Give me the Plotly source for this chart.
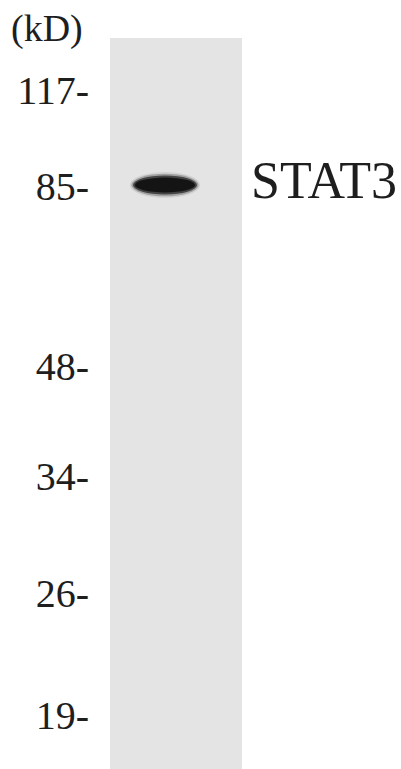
import plotly.graph_objects as go

# Molecular-weight marker ladder (kD) and their migration positions (image units, top = 0)
marker_labels = ["117-", "85-", "48-", "34-", "26-", "19-"]
marker_kd = [117, 85, 48, 34, 26, 19]
marker_pos = [94, 190, 370, 480, 597, 719]

# Lane geometry (image units)
lane_center = [176]
lane_width = [132]
lane_top = [38]
lane_length = [731]

# Detected band
band_names = ["STAT3"]
band_pos = [185]          # migration position of band centre
band_center_x = [165]     # horizontal centre within the lane
band_len = [64]           # band length
band_thick = [18]         # band thickness

SERIF = "Liberation Serif, Times New Roman, serif"

fig = go.Figure()

# Lane
fig.add_trace(go.Bar(
    x=lane_center, y=lane_length, base=lane_top, width=lane_width,
    marker=dict(color="#e4e4e4", line=dict(width=0)),
    hoverinfo="skip", showlegend=False,
))

# Marker labels
fig.add_trace(go.Scatter(
    x=[89] * len(marker_labels), y=marker_pos, mode="text",
    text=marker_labels, textposition="middle left",
    textfont=dict(family=SERIF, size=40, color="#1e1e1e"),
    hoverinfo="skip", showlegend=False,
))

# Unit label
fig.add_trace(go.Scatter(
    x=[11], y=[31], mode="text", text=["(kD)"], textposition="middle right",
    textfont=dict(family=SERIF, size=38, color="#1e1e1e"),
    hoverinfo="skip", showlegend=False,
))

# Band name label
fig.add_trace(go.Scatter(
    x=[251], y=band_pos, mode="text", text=band_names, textposition="middle right",
    textfont=dict(family=SERIF, size=52, color="#1e1e1e"),
    hoverinfo="skip", showlegend=False,
))

# Band drawn as soft layered ellipses
shapes = []
for cx, cy, L, T in zip(band_center_x, band_pos, band_len, band_thick):
    layers = [(1.10, 1.45, "#c8c8c8", 0.6), (1.05, 1.25, "#8a8a8a", 0.7),
              (1.00, 1.05, "#3a3a3a", 0.9), (0.94, 0.82, "#141414", 1.0)]
    for sx, sy, col, op in layers:
        shapes.append(dict(
            type="circle", xref="x", yref="y",
            x0=cx - L * sx / 2, x1=cx + L * sx / 2,
            y0=cy - T * sy / 2, y1=cy + T * sy / 2,
            fillcolor=col, opacity=op, line=dict(width=0), layer="above",
        ))

fig.update_layout(
    width=401, height=769,
    margin=dict(l=0, r=0, t=0, b=0),
    paper_bgcolor="white", plot_bgcolor="white",
    xaxis=dict(range=[0, 401], visible=False, fixedrange=True),
    yaxis=dict(range=[769, 0], visible=False, fixedrange=True),
    shapes=shapes, bargap=0,
)

fig.write_html(
    "out.html",
    config={"displayModeBar": False},
    post_script="document.body.style.margin='0';document.body.style.overflow='hidden';",
)
